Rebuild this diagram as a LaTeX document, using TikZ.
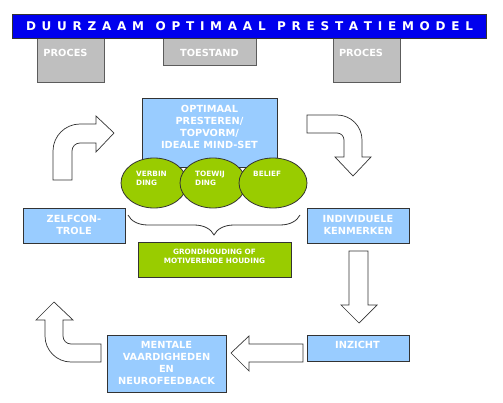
\documentclass[tikz,border=0pt]{standalone}
\usepackage{fontspec}
\setmainfont{DejaVu Sans}
\usetikzlibrary{shapes.geometric,decorations.pathreplacing}
\definecolor{titleblue}{HTML}{0000EE}
\definecolor{lblue}{HTML}{99CCFF}
\definecolor{gbox}{HTML}{BFBFBF}
\definecolor{lgreen}{HTML}{99CC00}
\definecolor{edge}{HTML}{333333}
\newcommand{\lsp}{\hskip 0pt plus 1fil\relax}
\newcommand{\wsp}{\hskip 0pt plus 2fil\relax}
\begin{document}
\begin{tikzpicture}[x=1pt,y=-1pt,
  boxbase/.style={draw=edge, line width=0.8pt, inner sep=0pt, anchor=north west, outer sep=0pt},
  bluebox/.style={boxbase, fill=lblue},
  graybox/.style={boxbase, fill=gbox, draw=edge!80},
  greenbox/.style={boxbase, fill=lgreen},
  bigtxt/.style={text=white, font=\bfseries\fontsize{9.8}{12}\selectfont, align=center, inner sep=0pt},
  smalltxt/.style={text=white, font=\bfseries\fontsize{7.3}{9}\selectfont, align=left, inner sep=0pt, anchor=north west},
  smallctxt/.style={text=white, font=\bfseries\fontsize{7.3}{9}\selectfont, align=center, inner sep=0pt},
  blob/.style={ellipse, draw=edge, line width=0.8pt, fill=lgreen, minimum width=66pt, minimum height=50pt, inner sep=0pt},
  blockarrow/.style={draw=edge, line width=0.7pt, fill=white, line join=miter}]
\useasboundingbox (0,0) rectangle (503,403);
\fill[white] (0,0) rectangle (503,403);

% gray header boxes
\node[graybox, minimum width=67pt, minimum height=52pt] (p1) at (37,30) {};
\node[graybox, minimum width=93pt, minimum height=35pt] (ts) at (163,30) {};
\node[graybox, minimum width=67pt, minimum height=52pt] (p2) at (333,30) {};
\node[bigtxt] (p1t) at (65.5,53) {PROCES};
\node[bigtxt] (tst) at (209.5,53) {TOESTAND};
\node[bigtxt] (p2t) at (361,53) {PROCES};

% title bar
\node[boxbase, fill=titleblue, draw=edge, minimum width=474pt, minimum height=24pt] (title) at (12,14) {};
\node[text=white, font=\bfseries\fontsize{12}{12}\selectfont, inner sep=0pt] (titlet) at (249.5,26)
  {\makebox[447pt][s]{D\lsp U\lsp U\lsp R\lsp Z\lsp A\lsp A\lsp M\wsp O\lsp P\lsp T\lsp I\lsp M\lsp A\lsp A\lsp L\wsp P\lsp R\lsp E\lsp S\lsp T\lsp A\lsp T\lsp I\lsp E\lsp M\lsp O\lsp D\lsp E\lsp L}};

% central box
\node[bluebox, minimum width=135pt, minimum height=69pt] (opt) at (142,98) {};
\node[bigtxt] (optt) at (209.5,127) {OPTIMAAL\\PRESTEREN/\\TOPVORM/\\IDEALE MIND-SET};

% ellipses
\node[blob] (e1) at (154,183) {};
\node[blob] (e2) at (213,183) {};
\node[blob, minimum width=68pt] (e3) at (273,183) {};
\node[smalltxt] (e1t) at (136,170.5) {VERBIN\\DING};
\node[smalltxt] (e2t) at (195,170.5) {TOEWIJ\\DING};
\node[smalltxt] (e3t) at (253,170.5) {BELIEF};

% brace
\coordinate (bl) at (128,215);
\coordinate (br) at (300,215);
\draw[edge, line width=0.8pt, decorate, decoration={brace, amplitude=20pt}] (br) -- (bl);

% grondhouding
\node[greenbox, minimum width=153pt, minimum height=35pt] (gh) at (138,242) {};
\node[smallctxt] (ght) at (214.5,256) {GRONDHOUDING OF\\MOTIVERENDE HOUDING};

% side boxes
\node[bluebox, minimum width=102pt, minimum height=35pt] (zc) at (23,208) {};
\node[bigtxt] (zct) at (74,224.5) {ZELFCON-\\TROLE};
\node[bluebox, minimum width=102pt, minimum height=35pt] (ik) at (307,208) {};
\node[bigtxt] (ikt) at (358,224.5) {INDIVIDUELE\\KENMERKEN};
\node[bluebox, minimum width=102pt, minimum height=26pt] (iz) at (307,335) {};
\node[bigtxt] (izt) at (357.5,344.5) {INZICHT};
\node[bluebox, minimum width=119pt, minimum height=57pt] (mv) at (107,335) {};
\node[bigtxt] (mvt) at (166.5,363) {MENTALE\\VAARDIGHEDEN\\EN\\NEUROFEEDBACK};

% block arrows
% top-left (up then right)
\draw[blockarrow] (53,180) -- (53,151) arc (180:270:27) -- (96,124) -- (96,116) -- (114,133)
  -- (96,152) -- (96,143) -- (80,143) arc (270:180:8) -- (72,180) -- cycle;
% top-right (right then down)
\draw[blockarrow] (307,115) -- (337,115) arc (-90:0:25) -- (362,157) -- (371,157) -- (353,176)
  -- (335,157) -- (344,157) -- (344,140) arc (0:-90:7) -- (307,133) -- cycle;
% down arrow
\draw[blockarrow] (349,251) -- (368,251) -- (368,305) -- (377,305) -- (359,323) -- (341,305) -- (349,305) -- cycle;
% left arrow
\draw[blockarrow] (303,344) -- (249,344) -- (249,336) -- (231,353) -- (249,371) -- (249,362) -- (303,362) -- cycle;
% bottom-left (left then up)
\draw[blockarrow] (101,344) -- (71,344) arc (90:180:8) -- (63,320) -- (73,320) -- (54,302)
  -- (36,320) -- (45,320) -- (45,336) arc (180:90:26) -- (101,362) -- cycle;
\end{tikzpicture}
\end{document}
